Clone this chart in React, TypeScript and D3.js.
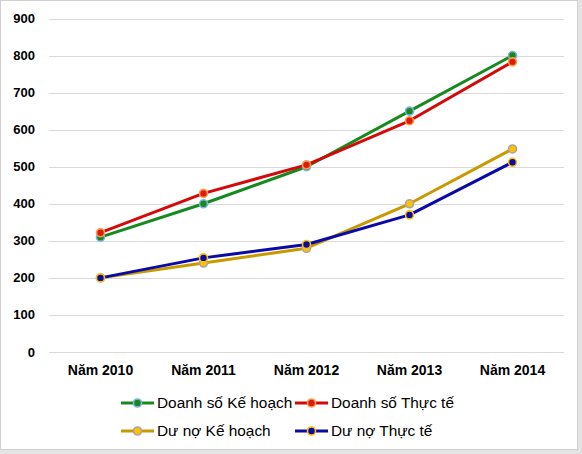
import React, { useEffect, useRef } from 'react';
import * as d3 from 'd3';

const categories = ['Năm 2010', 'Năm 2011', 'Năm 2012', 'Năm 2013', 'Năm 2014'];
const doanhSoKeHoach = [310, 400, 500, 650, 800];
const doanhSoThucTe = [322, 428, 505, 624, 783];
const duNoKeHoach = [200, 240, 280, 400, 548];
const duNoThucTe = [200, 254, 290, 370, 512];
const yTicks = [0, 100, 200, 300, 400, 500, 600, 700, 800, 900];

interface Series {
  name: string;
  values: number[];
  line: string;
  fill: string;
  ring: string;
}

const series: Series[] = [
  { name: 'Doanh số Kế hoạch', values: doanhSoKeHoach, line: '#168a1f', fill: '#168a1f', ring: '#7db4dc' },
  { name: 'Dư nợ Kế hoạch', values: duNoKeHoach, line: '#c89a00', fill: '#ffc000', ring: '#a6a6a6' },
  { name: 'Dư nợ Thực tế', values: duNoThucTe, line: '#0a0aa8', fill: '#0a0aa8', ring: '#ffc000' },
  { name: 'Doanh số Thực tế', values: doanhSoThucTe, line: '#d40a0a', fill: '#e01b0a', ring: '#f5a050' },
];

const W = 582;
const H = 454;
const FONT = 'Arial, "Liberation Sans", sans-serif';

const App = () => {
  const ref = useRef<SVGSVGElement>(null);

  useEffect(() => {
    const svg = d3.select(ref.current);
    svg.selectAll('*').remove();

    // frame with a light shadow
    svg.append('rect').attr('x', 0).attr('y', 0).attr('width', W).attr('height', H).attr('fill', '#e4e4e4');
    svg
      .append('rect')
      .attr('x', 0.5)
      .attr('y', 0.5)
      .attr('width', 577)
      .attr('height', 449)
      .attr('fill', '#fff')
      .attr('stroke', '#d0d0d0');

    const x = d3.scaleBand().domain(categories).range([49, 564]);
    const y = d3.scaleLinear().domain([0, 900]).range([352, 18.5]);

    svg
      .append('g')
      .selectAll('line')
      .data(yTicks)
      .enter()
      .append('line')
      .attr('x1', 49)
      .attr('x2', 564)
      .attr('y1', (d) => Math.round(y(d)) + 0.5)
      .attr('y2', (d) => Math.round(y(d)) + 0.5)
      .attr('stroke', '#d9d9d9')
      .attr('stroke-width', 1);

    svg
      .append('g')
      .selectAll('text')
      .data(yTicks)
      .enter()
      .append('text')
      .attr('x', 35)
      .attr('y', (d) => y(d))
      .attr('dy', '0.35em')
      .attr('text-anchor', 'end')
      .attr('font-family', FONT)
      .attr('font-weight', 'bold')
      .attr('font-size', 13)
      .attr('fill', '#000')
      .text((d) => String(d));

    svg
      .append('g')
      .selectAll('text')
      .data(categories)
      .enter()
      .append('text')
      .attr('x', (d) => (x(d) || 0) + x.bandwidth() / 2)
      .attr('y', 370)
      .attr('dy', '0.35em')
      .attr('text-anchor', 'middle')
      .attr('font-family', FONT)
      .attr('font-weight', 'bold')
      .attr('font-size', 14)
      .attr('fill', '#000')
      .text((d) => d);

    const cx = (i: number) => (x(categories[i]) || 0) + x.bandwidth() / 2;
    const line = d3
      .line<number>()
      .x((_, i) => cx(i))
      .y((d) => y(d));

    series.forEach((s) => {
      svg
        .append('path')
        .datum(s.values)
        .attr('d', line)
        .attr('fill', 'none')
        .attr('stroke', s.line)
        .attr('stroke-width', 3)
        .attr('stroke-linejoin', 'round');
    });
    series.forEach((s) => {
      svg
        .append('g')
        .selectAll('circle')
        .data(s.values)
        .enter()
        .append('circle')
        .attr('cx', (_, i) => cx(i))
        .attr('cy', (d) => y(d))
        .attr('r', 4)
        .attr('fill', s.fill)
        .attr('stroke', s.ring)
        .attr('stroke-width', 1.6);
    });

    // legend
    const legendPos = [
      { s: series[0], x: 121, y: 403 },
      { s: series[3], x: 295, y: 403 },
      { s: series[1], x: 121, y: 431 },
      { s: series[2], x: 295, y: 431 },
    ];
    const lg = svg
      .append('g')
      .selectAll('g')
      .data(legendPos)
      .enter()
      .append('g')
      .attr('transform', (d) => `translate(${d.x},${d.y})`);
    lg.append('line')
      .attr('x1', 0)
      .attr('x2', 33)
      .attr('stroke', (d) => d.s.line)
      .attr('stroke-width', 3);
    lg.append('circle')
      .attr('cx', 16.5)
      .attr('r', 4)
      .attr('fill', (d) => d.s.fill)
      .attr('stroke', (d) => d.s.ring)
      .attr('stroke-width', 1.6);
    lg.append('text')
      .attr('x', 36)
      .attr('dy', '0.35em')
      .attr('font-family', FONT)
      .attr('font-size', 15.4)
      .attr('fill', '#000')
      .text((d) => d.s.name);
  }, []);

  return <svg ref={ref} width={W} height={H} style={{ position: 'absolute', left: 0, top: 0 }} />;
};

export default App;
